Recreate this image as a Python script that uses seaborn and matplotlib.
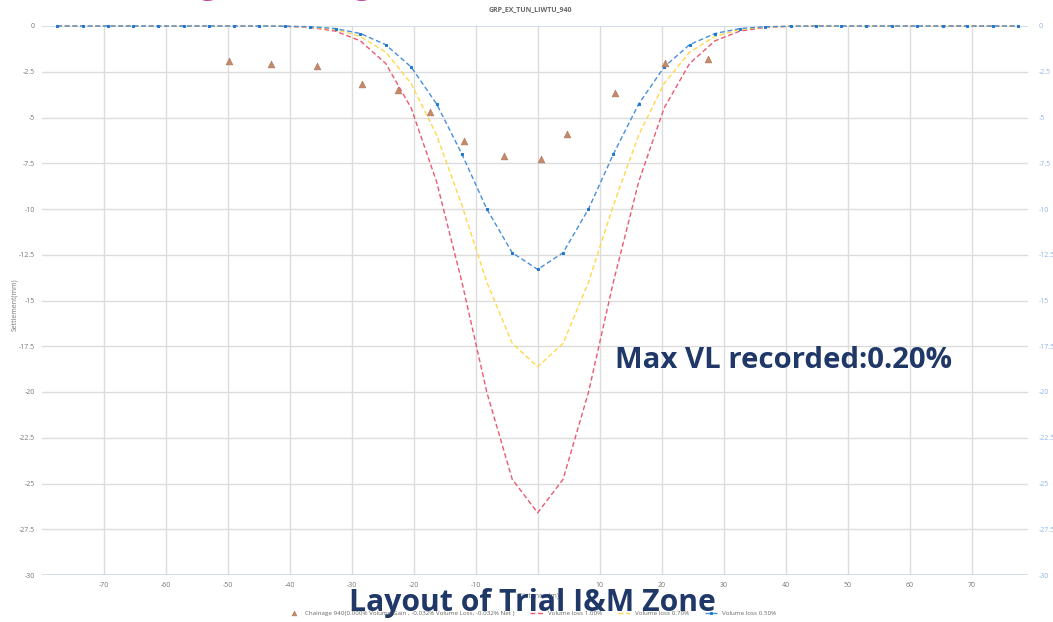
import numpy as np
import pandas as pd
import matplotlib
matplotlib.use("Agg")
import matplotlib.pyplot as plt
import seaborn as sns

# ---------------- data ----------------
distance = [-77.5, -73.4, -69.3, -65.3, -61.2, -57.1, -53.0, -49.0, -44.9, -40.8,
            -36.7, -32.6, -28.6, -24.5, -20.4, -16.3, -12.2, -8.2, -4.1, 0.0,
            4.1, 8.2, 12.2, 16.3, 20.4, 24.5, 28.6, 32.6, 36.7, 40.8,
            44.9, 49.0, 53.0, 57.1, 61.2, 65.3, 69.3, 73.4, 77.5]
vl_100 = [0, 0, 0, 0, 0, 0, 0, 0, 0, -0.02,
          -0.08, -0.28, -0.81, -2.05, -4.48, -8.51, -14.01, -20.01, -24.77, -26.60,
          -24.77, -20.01, -14.01, -8.51, -4.48, -2.05, -0.81, -0.28, -0.08, -0.02,
          0, 0, 0, 0, 0, 0, 0, 0, 0]
vl_070 = [0, 0, 0, 0, 0, 0, 0, 0, 0, -0.01,
          -0.06, -0.19, -0.57, -1.43, -3.14, -5.96, -9.81, -14.00, -17.34, -18.62,
          -17.34, -14.00, -9.81, -5.96, -3.14, -1.43, -0.57, -0.19, -0.06, -0.01,
          0, 0, 0, 0, 0, 0, 0, 0, 0]
vl_050 = [0, 0, 0, 0, 0, 0, 0, 0, 0, -0.01,
          -0.04, -0.14, -0.41, -1.02, -2.24, -4.26, -7.01, -10.00, -12.39, -13.30,
          -12.39, -10.00, -7.01, -4.26, -2.24, -1.02, -0.41, -0.14, -0.04, -0.01,
          0, 0, 0, 0, 0, 0, 0, 0, 0]

meas_x = [-49.7, -43.0, -35.6, -28.3, -22.6, -17.4, -11.8, -5.5, 0.5, 4.7, 12.4, 20.5, 27.4]
meas_y = [-1.90, -2.10, -2.19, -3.19, -3.50, -4.68, -6.28, -7.10, -7.27, -5.90, -3.68, -2.00, -1.80]

x_ticks = [-70, -60, -50, -40, -30, -20, -10, 0, 10, 20, 30, 40, 50, 60, 70]
x_tick_labels = ["-70", "-60", "-50", "-40", "-30", "-20", "-10", "", "10", "20", "30", "40", "50", "60", "70"]
y_ticks = [0, -2.5, -5, -7.5, -10, -12.5, -15, -17.5, -20, -22.5, -25, -27.5, -30]
y_tick_labels = ["0", "-2.5", "-5", "-7.5", "-10", "-12.5", "-15", "-17.5", "-20", "-22.5", "-25", "-27.5", "-30"]

meas_label = "Chainage 940(0.000% Volume Gain , -0.032% Volume Loss, -0.032% Net )"
labels = ["Volume loss 1.00%", "Volume loss 0.70%", "Volume loss 0.50%"]
title = "GRP_EX_TUN_LIWTU_940"

# ---------------- figure ----------------
sns.set_theme(style="white")
plt.rcParams['font.family'] = ['Open Sans', 'DejaVu Sans']

fig = plt.figure(figsize=(10.53, 6.22), dpi=100)
ax = fig.add_axes([41.6 / 1053, 1 - 575 / 622, (1027.5 - 41.6) / 1053, 549 / 622])

grid_c = "#dcdcdc"
for xt in x_ticks:
    ax.axvline(xt, color=grid_c, lw=1.0, zorder=0)
for yt in y_ticks[1:-1]:
    ax.axhline(yt, color=grid_c, lw=1.0, zorder=0)
for yt in (0, -30):
    ax.axhline(yt, color="#c9d7ea", lw=1.2, zorder=0)

sns.scatterplot(x=meas_x, y=meas_y, ax=ax, marker="^", s=24, color="#c38a6c",
                edgecolor="#b0704f", linewidth=0.4, label=meas_label, zorder=5)
sns.lineplot(x=distance, y=vl_100, ax=ax, color="#ea5a73", lw=1.0,
             label=labels[0], zorder=3, clip_on=False)
sns.lineplot(x=distance, y=vl_070, ax=ax, color="#ffd84a", lw=1.0,
             label=labels[1], zorder=3, clip_on=False)
sns.lineplot(x=distance, y=vl_050, ax=ax, color="#4a90d9", lw=1.0,
             marker="s", markersize=2.0, markerfacecolor="#1f78d1",
             markeredgecolor="#1f78d1", label=labels[2], zorder=4, clip_on=False)
data_lines = [ln for ln in ax.get_lines() if ln.get_label() in labels]
for ln in data_lines:
    ln.set_linestyle((0, (3.5, 2)))

ax.set_xlim(-80, 79)
ax.set_ylim(-30, 0)
for s in ax.spines.values():
    s.set_visible(False)
ax.set_xticks(x_ticks)
ax.set_xticklabels(x_tick_labels)
ax.set_yticks(y_ticks)
ax.set_yticklabels(y_tick_labels)
ax.tick_params(axis="y", labelsize=5, colors="#777777", length=0, pad=5)
ax.tick_params(axis="x", labelsize=5, labelcolor="#777777", length=3, color="#dcdcdc", pad=2)
ax.set_xlabel("")
ax.set_ylabel("")

ax2 = ax.twinx()
ax2.set_ylim(-30, 0)
ax2.set_yticks(y_ticks)
ax2.set_yticklabels(y_tick_labels)
ax2.tick_params(axis="y", labelsize=5, colors="#8fb7e6", length=0, pad=8)
for s in ax2.spines.values():
    s.set_visible(False)

fig.text(538 / 1053, 1 - 596 / 622, "Distance (m)", fontsize=5, color="#777777",
         ha="center", va="center")
fig.text(15 / 1053, 1 - 305 / 622, "Settlement(mm)", fontsize=5, color="#777777",
         ha="center", va="center", rotation=90)
fig.text(530 / 1053, 1 - 10 / 622, title, fontsize=5, color="#666666",
         ha="center", va="center", fontweight="bold")

h, l = ax.get_legend_handles_labels()
if ax.get_legend() is not None:
    ax.get_legend().remove()
fig.legend(h, l, loc="center", bbox_to_anchor=(532 / 1053, 1 - 613 / 622), ncol=4,
           fontsize=4.5, frameon=False, handlelength=2, columnspacing=2.5,
           labelcolor="#666666", markerscale=0.7)

fig.text(615 / 1053, 1 - 360 / 622, "Max VL recorded:0.20%", fontsize=21.2,
         color="#1f3868", fontweight="bold", ha="left", va="center")
fig.text(532 / 1053, 1 - 603 / 622, "Layout of Trial I&M Zone", fontsize=21.7,
         color="#1f3868", fontweight="bold", ha="center", va="center")
for gx in (208, 362):
    fig.text(gx / 1053, 1 + 6 / 622, "g", fontsize=22, color="#c0479a",
             fontweight="bold", ha="center", va="baseline")

fig.savefig("out.png", dpi=100)
